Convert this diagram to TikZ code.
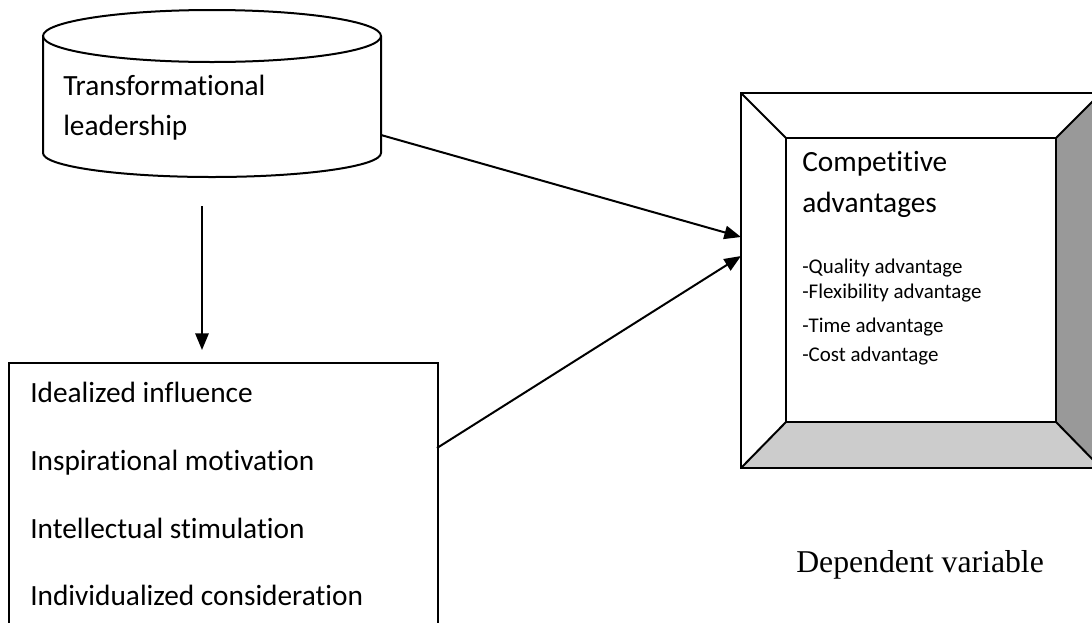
\documentclass[tikz,border=0pt]{standalone}
\usepackage{fontspec}
\setmainfont[Ligatures=NoCommon]{Carlito}
\newfontfamily\timesfont{Liberation Serif}
\usetikzlibrary{arrows.meta}
\begin{document}
\begin{tikzpicture}[x=0.75pt,y=-0.75pt,
  line/.style={line width=1.5pt},
  conn/.style={line width=1.5pt,-{Triangle[length=12.5pt,width=10pt]}},
  bigtxt/.style={anchor=base west,inner sep=0pt,font=\fontsize{22pt}{26pt}\selectfont},
  smalltxt/.style={anchor=base west,inner sep=0pt,font=\fontsize{15.7pt}{19pt}\selectfont},
  serif/.style={anchor=base west,inner sep=0pt,font=\timesfont\fontsize{23.8pt}{28pt}\selectfont}]
\useasboundingbox (0,0) rectangle (1092,622);
\clip (0,0) rectangle (1092,622);

% cylinder: Transformational leadership
\draw[line,fill=white] (43,36) -- (43,153) arc[start angle=180,end angle=0,x radius=169,y radius=24] -- (381,36);
\draw[line] (212,36) ellipse[x radius=169,y radius=26];
\node[bigtxt] (t1) at (63,95) {Transformational};
\node[bigtxt] (t2) at (63,135) {leadership};
\coordinate (cylR) at (381,135);
\coordinate (cylB) at (202,206);

% dimensions box
\node[draw,line,minimum width=321.75pt,minimum height=208.5pt,anchor=north west,inner sep=0pt] (dims) at (8,362) {};
\node[bigtxt] (d1) at (30,402) {Idealized influence};
\node[bigtxt] (d2) at (30,470) {Inspirational motivation};
\node[bigtxt] (d3) at (30,538) {Intellectual stimulation};
\node[bigtxt] (d4) at (30,605) {Individualized consideration};
\coordinate (dimsR) at (437,448);
\coordinate (dimsT) at (202,350);

% competitive advantages bevel box
\fill[black!40] (1056,138) -- (1101,93) -- (1101,468) -- (1056,422) -- cycle;
\fill[black!20] (786,422) -- (1056,422) -- (1101,468) -- (741,468) -- cycle;
\draw[line] (741,93) rectangle (1101,468);
\draw[line] (786,138) rectangle (1056,422);
\draw[line] (741,93) -- (786,138) (1101,93) -- (1056,138) (741,468) -- (786,422) (1101,468) -- (1056,422);
\node[inner sep=0pt,minimum width=270pt,minimum height=281.25pt,anchor=north west] (comp) at (741,93) {};
\node[bigtxt] (c1) at (802,171) {Competitive};
\node[bigtxt] (c2) at (802,212) {advantages};
\node[smalltxt] (s1) at (802,273) {-Quality advantage};
\node[smalltxt] (s2) at (802,298) {-Flexibility advantage};
\node[smalltxt] (s3) at (802,332) {-Time advantage};
\node[smalltxt] (s4) at (802,361) {-Cost advantage};
\coordinate (compA) at (741,237);
\coordinate (compB) at (741,256);

\node[serif] (dv) at (796,572) {Dependent variable};

% connectors
\draw[conn] (cylR) -- (compA);
\draw[conn] (dimsR) -- (compB);
\draw[conn] (cylB) -- (dimsT);
\end{tikzpicture}
\end{document}
